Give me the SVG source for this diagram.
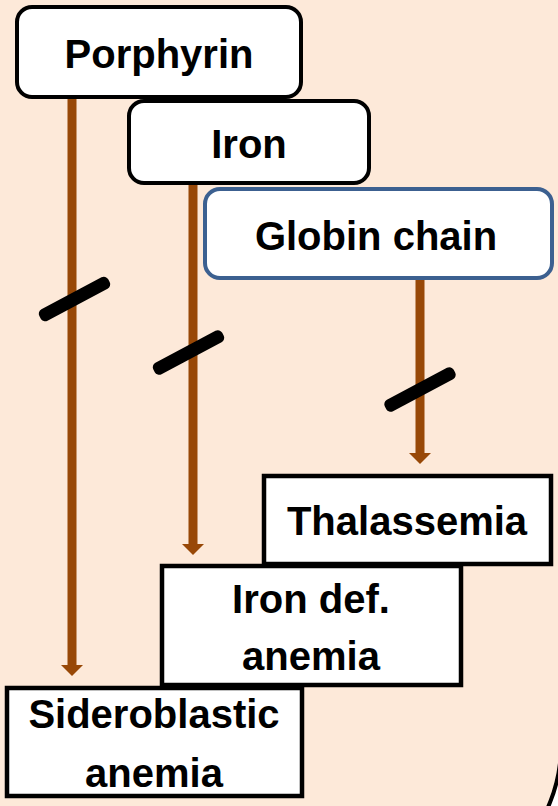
<svg xmlns="http://www.w3.org/2000/svg" width="558" height="806" viewBox="0 0 558 806">
  <defs>
    <style>
      .top { fill: #ffffff; stroke: #000000; stroke-width: 4; }
      .glob { fill: #ffffff; stroke: #3C6090; stroke-width: 4; }
      .out { fill: #ffffff; stroke: #000000; stroke-width: 4.5; }
      .lbl { font-family: "Liberation Sans", Arial, sans-serif; font-weight: bold; font-size: 40px; fill: #000000; text-anchor: middle; }
      .conn { stroke: #984807; stroke-width: 9; fill: none; marker-end: url(#ah); }
      .slash { fill: #000000; }
    </style>
    <marker id="ah" markerUnits="userSpaceOnUse" markerWidth="12" markerHeight="22" viewBox="0 0 11 22" refX="0" refY="11" orient="auto" overflow="visible">
      <path d="M0,0 L11,11 L0,22 Z" fill="#984807"/>
    </marker>
  </defs>

  <rect id="panel" x="-200" y="-400" width="761" height="1298.5" rx="153" ry="153" fill="#FDE9D9" stroke="#000000" stroke-width="4"/>

  <g id="connectors">
    <line class="conn" x1="72" y1="99" x2="72" y2="665"/>
    <line class="conn" x1="193" y1="185" x2="193" y2="544"/>
    <line class="conn" x1="420" y1="280" x2="420" y2="453"/>
    <rect class="slash" x="-39" y="-6.5" width="78" height="13" rx="5" transform="translate(74.5,299) rotate(-28)"/>
    <rect class="slash" x="-39" y="-6.5" width="78" height="13" rx="5" transform="translate(188.5,352.5) rotate(-28)"/>
    <rect class="slash" x="-39" y="-6.5" width="78" height="13" rx="5" transform="translate(420,389.5) rotate(-28)"/>
  </g>

  <g id="porphyrin">
    <rect class="top" x="17" y="7" width="284" height="90" rx="15"/>
    <text class="lbl" x="159" y="68">Porphyrin</text>
  </g>
  <g id="iron">
    <rect class="top" x="129" y="101" width="240" height="82" rx="15"/>
    <text class="lbl" x="249" y="158">Iron</text>
  </g>
  <g id="globin">
    <rect class="glob" x="205" y="189" width="347" height="89" rx="15"/>
    <text class="lbl" x="376" y="250">Globin chain</text>
  </g>

  <g id="thalassemia">
    <rect class="out" x="264" y="476" width="287" height="88"/>
    <text class="lbl" x="407" y="535">Thalassemia</text>
  </g>
  <g id="irondef">
    <rect class="out" x="162" y="566" width="299" height="119"/>
    <text class="lbl" x="311" y="613">Iron def.</text>
    <text class="lbl" x="311" y="670">anemia</text>
  </g>
  <g id="sideroblastic">
    <rect class="out" x="7" y="688" width="295" height="108"/>
    <text class="lbl" x="154" y="728">Sideroblastic</text>
    <text class="lbl" x="154" y="787">anemia</text>
  </g>
</svg>
